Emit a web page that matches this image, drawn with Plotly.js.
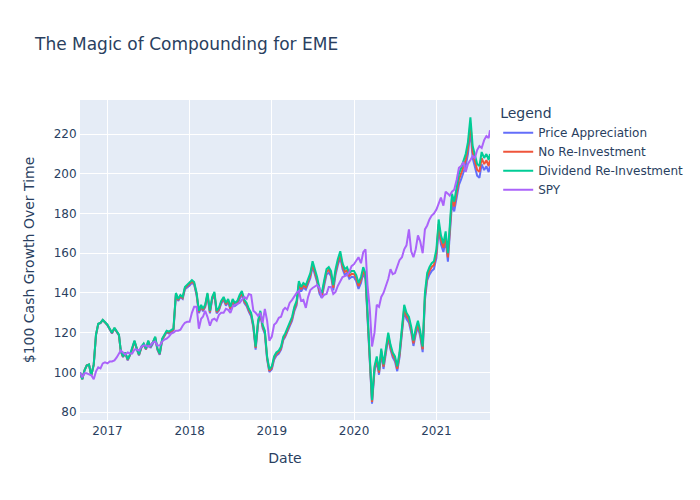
<!DOCTYPE html>
<html>
<head>
<meta charset="utf-8">
<script src="https://cdn.plot.ly/plotly-3.0.1.min.js"></script>
<style>html,body{margin:0;padding:0;background:#fff;}#chart{width:700px;height:500px;}</style>
</head>
<body>
<div id="chart"></div>
<script>
const dates = [
"2016-09-01","2016-09-11","2016-09-21","2016-10-01","2016-10-11","2016-10-21","2016-11-01","2016-11-11","2016-11-21","2016-12-01","2016-12-11","2016-12-21",
"2017-01-01","2017-01-11","2017-01-21","2017-02-01","2017-02-11","2017-02-21","2017-03-01","2017-03-11","2017-03-21",
"2017-04-01","2017-04-11","2017-04-21","2017-05-01","2017-05-11","2017-05-21","2017-06-01","2017-06-11","2017-06-21",
"2017-07-01","2017-07-11","2017-07-21","2017-08-01","2017-08-11","2017-08-21","2017-09-01","2017-09-11","2017-09-21",
"2017-10-01","2017-10-11","2017-10-21","2017-11-01","2017-11-11","2017-11-21","2017-12-01","2017-12-11","2017-12-21",
"2018-01-01","2018-01-11","2018-01-21","2018-02-01","2018-02-11","2018-02-21","2018-03-01","2018-03-11","2018-03-21",
"2018-04-01","2018-04-11","2018-04-21","2018-05-01","2018-05-11","2018-05-21","2018-06-01","2018-06-11","2018-06-21",
"2018-07-01","2018-07-11","2018-07-21","2018-08-01","2018-08-11","2018-08-21","2018-09-01","2018-09-11","2018-09-21",
"2018-10-01","2018-10-11","2018-10-21","2018-11-01","2018-11-11","2018-11-21","2018-12-01","2018-12-11","2018-12-21",
"2019-01-01","2019-01-11","2019-01-21","2019-02-01","2019-02-11","2019-02-21","2019-03-01","2019-03-11","2019-03-21",
"2019-04-01","2019-04-11","2019-04-21","2019-05-01","2019-05-11","2019-05-21","2019-06-01","2019-06-11","2019-06-21",
"2019-07-01","2019-07-11","2019-07-21","2019-08-01","2019-08-11","2019-08-21","2019-09-01","2019-09-11","2019-09-21",
"2019-10-01","2019-10-11","2019-10-21","2019-11-01","2019-11-11","2019-11-21","2019-12-01","2019-12-11","2019-12-21",
"2020-01-01","2020-01-11","2020-01-21","2020-02-01","2020-02-11","2020-02-21","2020-03-01","2020-03-11","2020-03-21",
"2020-04-01","2020-04-11","2020-04-21","2020-05-01","2020-05-11","2020-05-21","2020-06-01","2020-06-11","2020-06-21",
"2020-07-01","2020-07-11","2020-07-21","2020-08-01","2020-08-11","2020-08-21","2020-09-01","2020-09-11","2020-09-21",
"2020-10-01","2020-10-11","2020-10-21","2020-11-01","2020-11-11","2020-11-21","2020-12-01","2020-12-11","2020-12-21",
"2021-01-01","2021-01-11","2021-01-21","2021-02-01","2021-02-11","2021-02-21","2021-03-01","2021-03-11","2021-03-21",
"2021-04-01","2021-04-11","2021-04-21","2021-05-01","2021-05-11","2021-05-21","2021-06-01","2021-06-11","2021-06-21",
"2021-07-01","2021-07-11","2021-07-21","2021-08-01","2021-08-11","2021-08-21","2021-08-27"
];

const priceAppreciation = [
100,96.5,101,103.5,103.8,98.4,103.8,118.8,124.3,124.8,126.3,125.3,
123.6,121.6,119.6,122.1,120.1,118.6,110.7,107.7,109.7,106.0,108.5,111.5,115.5,111.5,108.5,112.5,114.0,111.5,
115.3,112.3,114.3,117.3,111.3,108.8,116.3,118.3,120.3,119.6,120.6,121.1,138.9,136.0,138.0,137.0,141.9,142.9,
143.7,145.2,144.2,138.7,129.8,132.8,130.8,132.8,138.7,129.7,136.6,139.1,129.7,131.2,134.6,136.6,133.6,135.6,
131.5,135.4,133.4,134.4,137.4,139.4,134.9,133.4,130.5,128.3,122.4,111.5,124.4,129.3,122.4,119.4,106.6,100.2,
101.5,106.4,108.4,109.4,111.4,116.3,117.8,120.2,122.7,126.0,130.9,133.8,143.7,140.7,142.7,141.7,144.6,147.6,
153.3,149.3,145.4,139.5,137.6,143.4,149.3,150.3,148.4,141.3,149.1,154.0,157.9,152.1,149.1,150.1,147.2,148.1,
147.9,145.9,142.0,145.0,149.9,146.9,129.3,109.7,84.2,100.7,105.6,98.8,109.5,101.7,109.5,117.4,111.5,107.6,
105.5,100.6,107.4,121.1,130.9,126.9,125.0,120.1,113.3,119.0,122.9,118.0,110.2,136.5,146.3,149.2,151.1,152.1,
157.7,172.3,164.5,160.6,166.5,155.8,167.4,185.0,181.1,187.6,194.4,197.3,201.2,204.1,210.0,222.1,208.0,204.1,
199.0,198.0,204.8,201.9,203.8,200.9,203.8
];

const noReinvestment = [
100,96.5,101,103.5,103.9,98.4,103.9,118.9,124.4,124.9,126.4,125.4,
123.8,121.8,119.8,122.3,120.3,118.8,110.8,107.8,109.8,106.3,108.8,111.7,115.7,111.7,108.8,112.7,114.2,111.7,
115.7,112.7,114.7,117.6,111.7,109.2,116.6,118.6,120.6,120.0,121.0,121.5,139.5,136.5,138.5,137.5,142.5,143.5,
144.3,145.8,144.8,139.4,130.4,133.4,131.4,133.4,139.4,130.3,137.3,139.8,130.3,131.8,135.3,137.3,134.3,136.3,
132.2,136.2,134.2,135.2,138.2,140.2,135.7,134.2,131.2,129.2,123.2,112.3,125.2,130.2,123.2,120.2,107.3,100.8,
102.3,107.2,109.2,110.2,112.2,117.1,118.6,121.1,123.6,127.0,131.9,134.9,144.8,141.9,143.8,142.8,145.8,148.8,
154.6,150.7,146.7,140.8,138.8,144.7,150.7,151.7,149.7,142.6,150.6,155.5,159.5,153.5,150.6,151.5,148.6,149.6,
149.5,147.5,143.5,146.5,151.4,148.5,130.6,110.9,85.1,101.9,106.8,99.9,110.8,102.9,110.8,118.7,112.7,108.8,
106.7,101.8,108.7,122.5,132.4,128.5,126.5,121.6,114.6,120.5,124.4,119.5,111.6,138.3,148.1,151.1,153.1,154.1,
159.9,174.7,166.8,162.8,168.7,157.9,169.7,187.5,183.5,190.3,197.2,200.2,204.1,207.1,213.0,225.3,211.0,207.1,
202.0,201.0,207.9,204.9,206.9,203.9,206.9
];

const dividendReinvestment = [
100,96.5,101,103.5,104,98.5,104,119,124.5,125,126.5,125.5,
124,122,120,122.5,120.5,119,111,108,110,106.5,109,112,116,112,109,113,114.5,112,
116,113,115,118,112,109.5,117,119,121,120.5,121.5,122,140,137,139,138,143,144,
145,146.5,145.5,140,131,134,132,134,140,131,138,140.5,131,132.5,136,138,135,137,
133,137,135,136,139,141,136.5,135,132,130,124,113,126,131,124,121,108,101.5,
103,108,110,111,113,118,119.5,122,124.5,128,133,136,146,143,145,144,147,150,
156,152,148,142,140,146,152,153,151,144,152,157,161,155,152,153,150,151,
151,149,145,148,153,150,132,112,86,103,108,101,112,104,112,120,114,110,
108,103,110,124,134,130,128,123,116,122,126,121,113,140,150,153,155,156,
162,177,169,165,171,160,172,190,186,193,200,203,207,210,216,228.5,214,210,
205,204,211,208,210,207,210
];

const spy = [
100,97.5,99.5,99.5,99,98.5,96.5,100.5,102.5,102,104.5,105,
104.5,105.5,105.5,106,107.5,109.5,111,110,109,110,109.5,109.5,111.5,111.5,111,113,113.5,113.5,
113,113.5,115,115.5,113.5,113.5,115.5,116.5,117,118,119.5,120,121,121,121.5,123.5,125,125.5,
125.5,130,133,133,122,127,128,131,128,123.5,126.5,127,126,129,130,130,132,131.5,
130,133,134,134.5,135,136.5,138,137,139.5,139,131,130,128.5,130,125,132,126,116,
118,124,125,127.5,128,131.5,132.5,131.5,135,136.5,138.5,140,141,136,136.5,132.5,138,141.5,
142.5,143.5,144,142.5,137.5,139,139.5,143,143,139.5,140.5,143.5,146,148,148.5,149,150.5,153.5,
154.5,156,158,155,160.5,162,144,132,113,120,134,133,138,140,143,147,152,149.5,
150,153,156.5,158,162,164,172,161,158,162,169,166,160,172,174,177,179,180,
182,185,188,184,191,190,189,191,192,197,203,204,206,201,205,207,209,208,
212,214,213,217,219,218,222
];

const seriesNames = ["Price Appreciation", "No Re-Investment", "Dividend Re-Investment", "SPY"];
const seriesColors = ["#636efa", "#EF553B", "#00cc96", "#ab63fa"];
const seriesValues = [priceAppreciation, noReinvestment, dividendReinvestment, spy];

const traces = seriesValues.map((vals, i) => ({
  type: "scatter",
  mode: "lines",
  x: dates,
  y: vals,
  name: seriesNames[i],
  line: {color: seriesColors[i], width: 2}
}));

const layout = {
  width: 700,
  height: 500,
  margin: {l: 80, r: 80, t: 100, b: 80},
  paper_bgcolor: "white",
  plot_bgcolor: "#E5ECF6",
  font: {family: '"DejaVu Sans", verdana, arial, sans-serif', size: 12, color: "#2a3f5f"},
  title: {text: "The Magic of Compounding for EME", x: 0.05, font: {size: 17}},
  xaxis: {
    title: {text: "Date", standoff: 15},
    automargin: true,
    type: "date",
    range: ["2016-09-01", "2021-08-27"],
    dtick: "M12",
    tick0: "2017-01-01",
    tickformat: "%Y",
    gridcolor: "white",
    gridwidth: 1,
    linecolor: "white",
    zeroline: false,
    ticks: ""
  },
  yaxis: {
    title: {text: "$100 Cash Growth Over Time", standoff: 15},
    automargin: true,
    range: [76, 237.2],
    dtick: 20,
    tick0: 0,
    gridcolor: "white",
    gridwidth: 1,
    linecolor: "white",
    zeroline: false,
    ticks: ""
  },
  legend: {title: {text: "Legend"}, tracegroupgap: 0},
  showlegend: true
};

Plotly.newPlot("chart", traces, layout, {displayModeBar: false, staticPlot: true});
</script>
</body>
</html>
